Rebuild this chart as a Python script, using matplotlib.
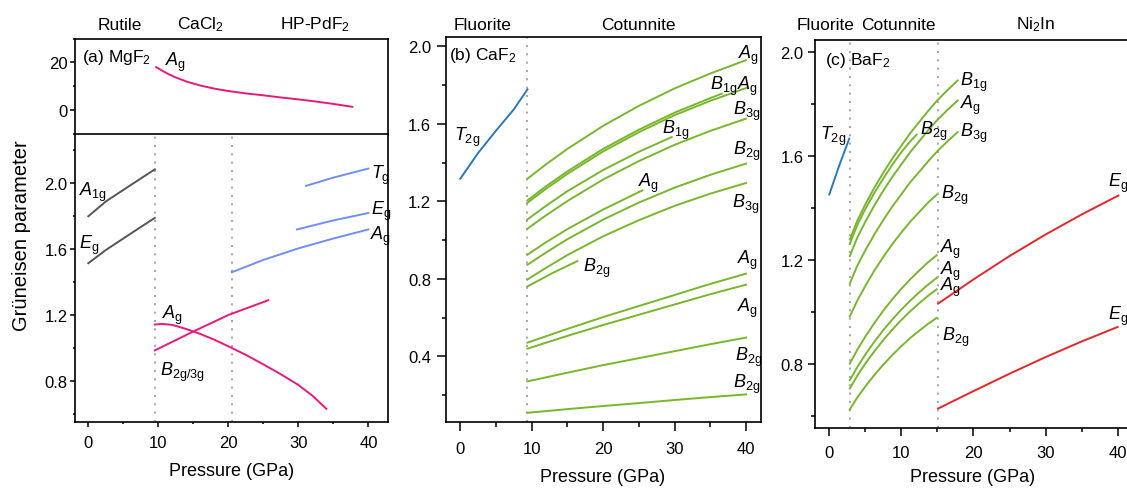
import matplotlib
matplotlib.use("Agg")
import matplotlib.pyplot as plt
from matplotlib.ticker import MultipleLocator

plt.rcParams['font.family'] = ['Liberation Sans', 'DejaVu Sans']
plt.rcParams['mathtext.fontset'] = 'custom'
plt.rcParams['mathtext.rm'] = 'Liberation Sans'
plt.rcParams['mathtext.it'] = 'Liberation Sans:italic'
plt.rcParams['mathtext.default'] = 'it'

W, H = 1127, 489

GREY = '#555555'
LBLUE = '#6f8ff2'
PINK = '#e8197c'
GREEN = '#78b72c'
BLUE = '#2a79bb'
RED = '#e8262a'
VLINE = '#aaaaaa'

# ---------------- (a) MgF2 ----------------
mgf2_top_x = [9.7, 10.5, 11.5, 12.5, 14, 16, 18, 20, 22.5, 25, 27.5, 30, 32.5, 35, 37.7]
mgf2_top_y = [18.0, 16.6, 15.0, 13.7, 12.0, 10.3, 9.0, 8.0, 7.0, 6.2, 5.3, 4.5, 3.6, 2.6, 1.4]

mgf2_rutile_x = [0, 2.5, 5, 7.5, 9.5]
mgf2_a1g_y = [1.80, 1.89, 1.96, 2.03, 2.085]
mgf2_eg_y = [1.515, 1.595, 1.665, 1.735, 1.79]

mgf2_hp_ag_x = [20.5, 25, 30, 35, 40]
mgf2_hp_ag_y = [1.46, 1.535, 1.605, 1.665, 1.72]
mgf2_hp_eg_x = [29.8, 35, 40]
mgf2_hp_eg_y = [1.72, 1.775, 1.82]
mgf2_hp_tg_x = [31.1, 35, 40]
mgf2_hp_tg_y = [1.985, 2.035, 2.09]

mgf2_cacl_ag_x = [9.5, 10.5, 12, 14, 16, 18, 20, 22.5, 25, 27.5, 30, 32, 34]
mgf2_cacl_ag_y = [1.142, 1.146, 1.14, 1.115, 1.085, 1.05, 1.01, 0.958, 0.90, 0.84, 0.775, 0.71, 0.63]
mgf2_cacl_b_x = [9.5, 15, 20, 25.7]
mgf2_cacl_b_y = [0.985, 1.10, 1.20, 1.29]

mgf2_bounds = [9.5, 20.5]

# ---------------- (b) CaF2 ----------------
caf2_t2g_x = [0, 2.5, 5, 7.5, 9.4]
caf2_t2g_y = [1.317, 1.45, 1.565, 1.675, 1.778]

cot_x = [9.4, 12, 15, 20, 25, 30, 35, 40]
cot_x_lin = [9.4, 15, 20, 25, 30, 35, 40]
caf2_cot = [
    (cot_x, [1.317, 1.391, 1.471, 1.590, 1.693, 1.783, 1.860, 1.929]),
    ([9.4, 12, 15, 20, 25, 30, 35, 36.6], [1.205, 1.278, 1.355, 1.471, 1.570, 1.658, 1.733, 1.756]),
    (cot_x, [1.193, 1.265, 1.342, 1.458, 1.557, 1.645, 1.719, 1.785]),
    ([9.4, 12, 15, 20, 25, 29.6], [1.107, 1.177, 1.253, 1.362, 1.456, 1.532]),
    (cot_x, [1.059, 1.128, 1.202, 1.313, 1.408, 1.492, 1.564, 1.627]),
    ([9.4, 12, 15, 20, 25.5], [0.925, 0.989, 1.057, 1.158, 1.257]),
    (cot_x, [0.873, 0.936, 1.005, 1.106, 1.194, 1.271, 1.337, 1.395]),
    (cot_x, [0.797, 0.857, 0.923, 1.020, 1.103, 1.177, 1.240, 1.295]),
    ([9.4, 13, 16.4], [0.761, 0.832, 0.892]),
    (cot_x_lin, [0.471, 0.542, 0.603, 0.660, 0.717, 0.774, 0.827]),
    (cot_x_lin, [0.440, 0.506, 0.562, 0.615, 0.668, 0.721, 0.770]),
    (cot_x_lin, [0.271, 0.316, 0.355, 0.391, 0.427, 0.463, 0.497]),
    (cot_x_lin, [0.109, 0.128, 0.144, 0.159, 0.175, 0.190, 0.204]),
]
caf2_bound = 9.4

# ---------------- (c) BaF2 ----------------
baf2_t2g_x = [0, 1.4, 2.77]
baf2_t2g_y = [1.452, 1.565, 1.667]

long_x = [2.85, 3.9, 5, 6.25, 7.5, 8.75, 10, 11.25, 12.5, 13.75, 15, 16.4, 17.8]
short_x = [2.85, 3.9, 5, 6.25, 7.5, 8.75, 10, 11.25, 12.5, 13.7, 14.9]
baf2_cot = [
    (long_x, [1.279, 1.352, 1.414, 1.478, 1.536, 1.591, 1.640, 1.689, 1.732, 1.775, 1.815, 1.854, 1.891]),
    (long_x, [1.215, 1.287, 1.347, 1.410, 1.467, 1.520, 1.568, 1.616, 1.658, 1.700, 1.739, 1.778, 1.814]),
    ([2.85, 3.9, 5, 6.25, 7.5, 8.75, 10, 11.05, 12.1],
     [1.262, 1.335, 1.396, 1.458, 1.514, 1.567, 1.615, 1.651, 1.682]),
    (long_x, [1.109, 1.179, 1.237, 1.298, 1.354, 1.406, 1.453, 1.500, 1.540, 1.581, 1.619, 1.657, 1.692]),
    (short_x, [0.983, 1.044, 1.100, 1.159, 1.212, 1.261, 1.306, 1.348, 1.385, 1.421, 1.451]),
    (short_x, [0.801, 0.855, 0.905, 0.957, 1.005, 1.049, 1.089, 1.126, 1.160, 1.191, 1.218]),
    (short_x, [0.737, 0.788, 0.836, 0.885, 0.930, 0.971, 1.009, 1.044, 1.076, 1.105, 1.131]),
    (short_x, [0.705, 0.755, 0.801, 0.848, 0.892, 0.932, 0.969, 1.003, 1.034, 1.062, 1.087]),
    (short_x, [0.625, 0.671, 0.713, 0.757, 0.797, 0.834, 0.868, 0.900, 0.928, 0.954, 0.977]),
]
baf2_ni2in = [
    ([15.1, 20, 25, 30, 35, 40.1], [1.032, 1.125, 1.215, 1.298, 1.375, 1.448]),
    ([15.1, 20, 25, 30, 35, 40], [0.628, 0.695, 0.762, 0.826, 0.886, 0.942]),
]
baf2_bounds = [2.85, 15.1]


def mode(name, sub):
    return r'$%s_{\mathrm{%s}}$' % (name, sub)


def px_axes(fig, left, top, right, bottom):
    return fig.add_axes([left / W, 1 - bottom / H, (right - left) / W, (bottom - top) / H])


def style(ax, maj, ypad, xpad, bottom_labels=True):
    for s in ax.spines.values():
        s.set_linewidth(1.2)
    ax.tick_params(which='both', direction='out', top=False, right=False, width=1.1,
                   labelsize=12)
    ax.tick_params(which='major', length=maj * 0.72)
    ax.tick_params(which='minor', length=maj * 0.36)
    ax.tick_params(axis='y', pad=ypad * 0.72)
    ax.tick_params(axis='x', pad=xpad * 0.72, labelbottom=bottom_labels)
    ax.xaxis.set_major_locator(MultipleLocator(10))
    ax.xaxis.set_minor_locator(MultipleLocator(5))


def vline(ax, x):
    ax.axvline(x, color=VLINE, lw=1.5, ls=(0, (1, 3)), zorder=0)


def label(ax, x, y, s):
    ax.text(x, y, s, fontsize=13, ha='left', va='center')


fig = plt.figure(figsize=(W / 100, H / 100), dpi=100)
LW = 1.4

# panel (a), upper part
ax_at = px_axes(fig, 75, 39.5, 388, 135)
ax_at.plot(mgf2_top_x, mgf2_top_y, color=PINK, lw=LW)
ax_at.set_xlim(-1.9, 42.8)
ax_at.set_ylim(-10, 30)
style(ax_at, 5, 2.5, 8, bottom_labels=False)
ax_at.yaxis.set_major_locator(MultipleLocator(20))
ax_at.yaxis.set_minor_locator(MultipleLocator(10))
ax_at.spines['bottom'].set_visible(False)
ax_at.text(0.022, 0.815, r'(a) MgF$_{\mathrm{2}}$', transform=ax_at.transAxes,
           fontsize=12.5, ha='left', va='center')
label(ax_at, 11, 20.5, mode('A', 'g'))

# panel (a), lower part
ax_ab = px_axes(fig, 75, 135, 388, 423)
ax_ab.plot(mgf2_rutile_x, mgf2_a1g_y, color=GREY, lw=LW)
ax_ab.plot(mgf2_rutile_x, mgf2_eg_y, color=GREY, lw=LW)
ax_ab.plot(mgf2_hp_ag_x, mgf2_hp_ag_y, color=LBLUE, lw=LW)
ax_ab.plot(mgf2_hp_eg_x, mgf2_hp_eg_y, color=LBLUE, lw=LW)
ax_ab.plot(mgf2_hp_tg_x, mgf2_hp_tg_y, color=LBLUE, lw=LW)
ax_ab.plot(mgf2_cacl_ag_x, mgf2_cacl_ag_y, color=PINK, lw=LW)
ax_ab.plot(mgf2_cacl_b_x, mgf2_cacl_b_y, color=PINK, lw=LW)
for b in mgf2_bounds:
    vline(ax_ab, b)
ax_ab.set_xlim(-1.9, 42.8)
ax_ab.set_ylim(0.55, 2.3)
style(ax_ab, 5, 2.5, 8)
ax_ab.set_yticks([0.8, 1.2, 1.6, 2.0])
ax_ab.set_yticks([0.6, 1.0, 1.4, 1.8, 2.2], minor=True)
ax_ab.set_yticklabels(['0.8', '1.2', '1.6', '2.0'])
label(ax_ab, -1.3, 1.95, mode('A', '1g'))
label(ax_ab, -1.4, 1.632, mode('E', 'g'))
label(ax_ab, 40.4, 2.057, mode('T', 'g'))
label(ax_ab, 40.4, 1.837, mode('E', 'g'))
label(ax_ab, 40.2, 1.685, mode('A', 'g'))
label(ax_ab, 10.5, 1.203, mode('A', 'g'))
label(ax_ab, 10.3, 0.856, mode('B', '2g/3g'))

# panel (b) CaF2
ax_b = px_axes(fig, 445.7, 37.7, 760.7, 423.3)
ax_b.plot(caf2_t2g_x, caf2_t2g_y, color=BLUE, lw=LW)
for xs, ys in caf2_cot:
    ax_b.plot(xs, ys, color=GREEN, lw=LW)
vline(ax_b, caf2_bound)
ax_b.set_xlim(-2.04, 42.06)
ax_b.set_ylim(0.06, 2.05)
style(ax_b, 9, 5.5, 10)
ax_b.set_yticks([0.4, 0.8, 1.2, 1.6, 2.0])
ax_b.set_yticklabels(['0.4', '0.8', '1.2', '1.6', '2.0'])
ax_b.yaxis.set_minor_locator(MultipleLocator(0.2))
ax_b.text(0.012, 0.955, r'(b) CaF$_{\mathrm{2}}$', transform=ax_b.transAxes,
          fontsize=12.5, ha='left', va='center')
label(ax_b, -0.9, 1.534, mode('T', '2g'))
label(ax_b, 38.9, 1.957, mode('A', 'g'))
label(ax_b, 34.9, 1.80, mode('B', '1g'))
label(ax_b, 38.7, 1.80, mode('A', 'g'))
label(ax_b, 38.2, 1.668, mode('B', '3g'))
label(ax_b, 28.2, 1.57, mode('B', '1g'))
label(ax_b, 38.2, 1.463, mode('B', '2g'))
label(ax_b, 24.9, 1.296, mode('A', 'g'))
label(ax_b, 38.0, 1.188, mode('B', '3g'))
label(ax_b, 17.2, 0.858, mode('B', '2g'))
label(ax_b, 38.7, 0.899, mode('A', 'g'))
label(ax_b, 38.7, 0.651, mode('A', 'g'))
label(ax_b, 38.5, 0.401, mode('B', '2g'))
label(ax_b, 38.2, 0.259, mode('B', '2g'))

# panel (c) BaF2, frame runs off the right edge
ax_c = px_axes(fig, 815, 40.7, 1131, 429)
ax_c.plot(baf2_t2g_x, baf2_t2g_y, color=BLUE, lw=LW)
for xs, ys in baf2_cot:
    ax_c.plot(xs, ys, color=GREEN, lw=LW)
for xs, ys in baf2_ni2in:
    ax_c.plot(xs, ys, color=RED, lw=LW)
for b in baf2_bounds:
    vline(ax_c, b)
ax_c.set_xlim(-1.98, 41.85)
ax_c.set_ylim(0.553, 2.048)
style(ax_c, 7.5, 4, 9)
ax_c.set_yticks([0.8, 1.2, 1.6, 2.0])
ax_c.set_yticklabels(['0.8', '1.2', '1.6', '2.0'])
ax_c.yaxis.set_minor_locator(MultipleLocator(0.2))
ax_c.text(0.032, 0.95, r'(c) BaF$_{\mathrm{2}}$', transform=ax_c.transAxes,
          fontsize=12.5, ha='left', va='center')
label(ax_c, -1.29, 1.678, mode('T', '2g'))
label(ax_c, 18.1, 1.886, mode('B', '1g'))
label(ax_c, 18.1, 1.80, mode('A', 'g'))
label(ax_c, 12.6, 1.70, mode('B', '2g'))
label(ax_c, 18.1, 1.693, mode('B', '3g'))
label(ax_c, 15.5, 1.453, mode('B', '2g'))
label(ax_c, 38.7, 1.50, mode('E', 'g'))
label(ax_c, 15.3, 1.243, mode('A', 'g'))
label(ax_c, 15.3, 1.160, mode('A', 'g'))
label(ax_c, 15.3, 1.098, mode('A', 'g'))
label(ax_c, 15.6, 0.907, mode('B', '2g'))
label(ax_c, 38.7, 0.987, mode('E', 'g'))

# phase names above the panels
phases = [(120, 'Rutile'), (200, r'CaCl$_{\mathrm{2}}$'), (315, r'HP-PdF$_{\mathrm{2}}$'),
          (483, 'Fluorite'), (638, 'Cotunnite'),
          (826, 'Fluorite'), (898, 'Cotunnite'), (1036, r'Ni$_{\mathrm{2}}$In')]
for xp, name in phases:
    fig.text(xp / W, 1 - 25 / H, name, fontsize=12.5, ha='center', va='center')

fig.text(21.5 / W, 1 - 236 / H, 'Grüneisen parameter', fontsize=14.5,
         rotation=90, ha='center', va='center')
for xp, yp in [(231.5, 472), (603, 478), (973, 478)]:
    fig.text(xp / W, 1 - yp / H, 'Pressure (GPa)', fontsize=13, ha='center', va='center')

fig.savefig('out.png', dpi=100)
